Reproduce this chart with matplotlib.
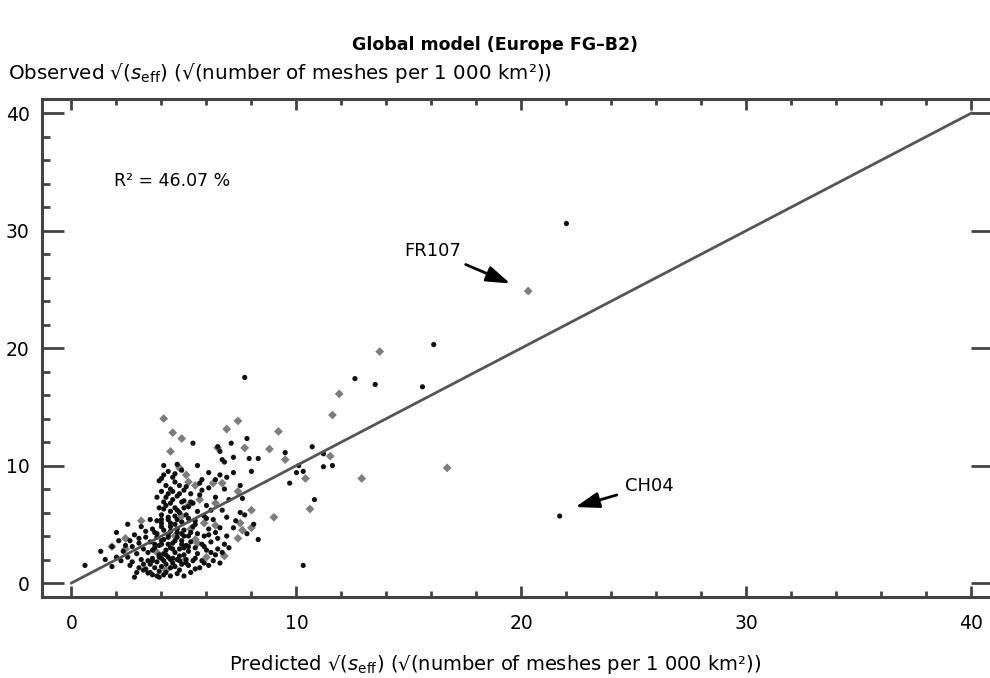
import matplotlib
matplotlib.use("Agg")
import matplotlib.pyplot as plt
from matplotlib.ticker import MultipleLocator

plt.rcParams['font.family'] = ['DejaVu Sans']

# Black dots (predicted, observed)
blackX = [22.0, 16.1, 15.6, 13.5, 21.7, 12.6, 9.5, 10.7, 11.2, 10.1, 10.3, 10.0, 11.2, 11.6, 9.7, 10.8, 10.3, 7.7,
          5.4, 7.8, 6.6, 7.1, 7.2, 7.9, 8.3, 8.0, 6.8, 5.6, 4.7, 6.1, 7.2, 6.5, 6.7, 7.5, 7.0, 7.6, 7.5, 7.7, 6.6, 7.2,
          8.3, 6.4, 6.1, 5.9, 5.2, 5.5, 5.8, 6.2, 6.0,
          0.6, 1.3, 1.8, 2.0, 2.5, 3.5, 4.0, 2.8, 1.8, 2.7, 3.0, 2.0, 2.5, 2.7, 2.8, 3.2, 3.4, 3.6, 3.9, 3.7,
          3.3, 3.5, 3.6, 3.4, 3.7, 3.5, 3.8, 3.6, 3.9, 4.0, 4.1, 3.9, 4.2, 4.0, 4.1, 4.3, 4.0, 4.2, 4.4, 4.5, 4.3, 4.6,
          4.4, 4.5, 4.7, 4.4, 4.6, 4.8, 4.9, 4.7, 5.0, 4.8, 5.1, 4.9, 5.2, 5.0, 5.3, 5.4, 5.2, 5.5, 5.3, 5.6, 5.4, 3.8,
          4.1, 4.3, 4.6, 4.8, 5.1, 3.6, 4.2, 4.5, 4.7, 3.9, 4.4, 5.0, 3.7, 4.0, 4.9, 5.6, 5.8, 5.7, 6.0, 6.2, 5.9, 6.3,
          6.5, 6.1, 6.8, 6.6, 3.1, 3.2, 3.0, 2.9, 3.3, 2.6, 2.3, 3.4,
          3.8, 4.0, 3.9, 4.1, 3.8, 4.0, 4.2, 3.9, 4.1, 4.3, 4.4, 4.2, 4.5, 4.3, 4.4, 4.6, 4.3, 4.7, 4.8, 4.6, 4.9, 4.7,
          5.0, 4.8, 5.1, 5.2, 5.0, 5.3, 5.5, 5.6, 5.4, 5.7, 5.9, 6.0, 5.8, 6.3, 6.4, 6.7, 6.9, 6.8, 4.5, 4.1, 4.4,
          3.5, 3.8, 4.1, 4.4, 4.7, 5.0, 3.6, 3.9, 4.2, 4.5, 4.8, 5.1, 3.7, 4.0, 4.3, 4.6, 4.9, 5.2, 3.8, 4.1, 4.4, 4.7,
          5.0, 5.3, 4.0, 4.3, 4.6, 4.9, 5.2, 5.5, 4.1, 4.4, 4.7, 5.0, 5.3, 4.2, 4.5, 4.8, 5.1, 4.0, 4.6, 4.9, 5.7, 6.1,
          6.4, 6.6, 6.9, 5.5, 5.8, 6.1, 6.4, 6.7, 7.0, 6.9, 7.3, 7.8, 8.1, 5.9, 6.2, 6.5, 3.2, 3.0, 2.9, 2.6, 2.2, 2.4,
          3.1, 3.3, 2.1, 1.5]
blackY = [30.6, 20.3, 16.7, 16.9, 5.7, 17.4, 11.1, 11.6, 11.0, 10.0, 9.5, 9.4, 9.9, 10.0, 8.5, 7.1, 1.5, 17.5,
          11.9, 12.3, 11.2, 11.9, 10.7, 10.6, 10.6, 9.5, 10.3, 10.0, 10.1, 9.4, 9.4, 11.6, 10.5, 8.3, 7.1, 7.2, 6.0, 5.8,
          4.7, 4.7, 3.7, 4.3, 4.1, 1.7, 1.5, 2.1, 8.8, 6.2, 5.5,
          1.5, 2.7, 1.4, 4.3, 5.0, 5.4, 5.4, 4.1, 3.1, 3.1, 3.4, 2.2, 2.2, 1.8, 0.5, 1.1, 0.85, 0.7, 0.5, 4.3,
          1.2, 1.6, 2.1, 2.6, 3.0, 3.5, 3.9, 4.6, 1.0, 1.4, 1.9, 2.4, 2.8, 3.3, 3.7, 4.1, 4.8, 0.9, 1.3, 1.7, 2.2, 2.6,
          3.0, 3.4, 3.9, 4.4, 5.0, 1.1, 1.6, 2.0, 2.4, 2.9, 3.2, 3.6, 4.0, 4.5, 0.9, 1.9, 2.7, 3.0, 3.5, 4.2, 4.8, 1.8,
          2.5, 3.3, 1.4, 2.3, 2.0, 2.8, 1.6, 2.9, 4.6, 3.2, 2.0, 3.0, 1.3, 2.1, 4.2, 2.5, 3.3, 1.3, 2.8, 3.5, 4.0, 1.9,
          2.9, 4.6, 3.3, 1.7, 2.0, 2.9, 3.8, 2.5, 4.4, 3.6, 2.7, 1.9,
          5.3, 5.8, 6.4, 6.9, 7.3, 7.8, 8.3, 8.7, 9.2, 5.6, 6.1, 6.6, 7.1, 7.6, 8.0, 8.6, 9.5, 5.4, 6.0, 6.4, 6.9, 7.4,
          7.9, 8.3, 5.8, 6.5, 7.0, 7.6, 5.3, 6.1, 6.8, 7.5, 5.7, 6.6, 7.9, 5.4, 7.3, 6.2, 5.6, 8.0, 9.0, 10.0, 5.1,
          0.9, 0.6, 0.7, 0.6, 0.8, 0.6, 1.9, 2.2, 2.4, 2.1, 1.9, 1.7, 3.3, 3.6, 3.9, 3.6, 3.3, 3.1, 4.2, 4.5, 4.8, 4.3,
          4.0, 4.3, 5.1, 5.4, 5.7, 5.2, 5.5, 5.0, 6.3, 6.8, 6.2, 6.4, 6.9, 7.3, 7.8, 7.6, 8.2, 8.9, 9.3, 9.6, 8.5, 8.1,
          8.8, 9.2, 9.0, 1.2, 1.9, 1.5, 2.4, 2.6, 3.0, 4.0, 5.3, 4.2, 5.0, 3.1, 2.6, 3.8, 1.6, 1.3, 0.9, 1.5, 1.9, 3.2,
          4.8, 3.9, 3.6, 2.0]

# Grey diamonds
greyX = [20.3, 13.7, 16.7, 11.9, 11.6, 9.2, 8.8, 11.5, 9.5, 10.4, 12.9, 10.6, 9.0, 4.1, 4.5, 4.9, 4.4, 7.4, 6.9,
         7.7, 6.5, 6.8, 1.8, 3.1, 2.4, 2.4, 6.7, 7.4, 8.0, 6.4, 7.5, 7.6, 8.0, 7.4, 5.5, 5.2, 4.8, 5.1, 5.5, 6.3,
         5.7, 5.2, 6.4, 5.9, 4.6, 5.0, 4.2, 5.6, 4.9, 3.8, 6.0, 5.3]
greyY = [24.85, 19.7, 9.8, 16.1, 14.3, 12.9, 11.4, 10.8, 10.5, 8.9, 8.9, 6.3, 5.6, 14.0, 12.8, 12.3, 11.2, 13.8, 13.1,
         11.5, 11.5, 2.3, 3.1, 5.3, 3.8, 2.9, 8.5, 7.8, 6.2, 4.9, 5.1, 4.5, 4.7, 3.8, 3.7, 8.6, 9.8, 9.2, 8.3, 8.5,
         7.1, 6.6, 6.8, 5.1, 4.0, 1.9, 1.1, 3.4, 5.7, 2.6, 2.2, 4.6]

fitX = [0, 40]
fitY = [0, 40]

fig = plt.figure(figsize=(9.9, 6.78), dpi=100)
ax = fig.add_axes([42 / 990, 81 / 678, 951 / 990, 498 / 678])

ax.plot(fitX, fitY, color='#555555', lw=2, zorder=3)
ax.scatter(greyX, greyY, marker='D', s=20, color='#7d7d7d', edgecolors='none', zorder=2)
ax.scatter(blackX, blackY, marker='o', s=14, color='#111111', edgecolors='none', zorder=2)

ax.set_xlim(-1.31, 40.96)
ax.set_ylim(-1.19, 41.2)

ax.xaxis.set_major_locator(MultipleLocator(10))
ax.xaxis.set_minor_locator(MultipleLocator(2))
ax.yaxis.set_major_locator(MultipleLocator(10))
ax.yaxis.set_minor_locator(MultipleLocator(2))
ax.tick_params(axis='x', which='major', direction='in', length=8, width=2, color='#444444',
               top=True, labelsize=13.5, pad=12)
ax.tick_params(axis='x', which='minor', direction='in', length=4, width=2, color='#444444', top=True)
ax.tick_params(axis='y', which='major', direction='in', length=16, width=2, color='#444444',
               right=True, labelsize=13.5, pad=9)
ax.tick_params(axis='y', which='minor', direction='in', length=6, width=2, color='#444444', right=False)
for sp in ax.spines.values():
    sp.set_linewidth(2.2)
    sp.set_color('#444444')

ax.text(1.9, 34.2, "R² = 46.07 %", fontsize=12.5, va='center', ha='left')

arrow = dict(arrowstyle='-|>,head_length=0.9,head_width=0.3', color='black', lw=2,
             mutation_scale=16, shrinkA=4, shrinkB=0)
ax.annotate("FR107", xy=(19.5, 25.5), xytext=(14.8, 28.3), fontsize=13, va='center', ha='left',
            arrowprops=arrow)
ax.annotate("CH04", xy=(22.4, 6.47), xytext=(24.6, 8.3), fontsize=13, va='center', ha='left',
            arrowprops=arrow)

fig.text(0.5, 1 - 45 / 678, "Global model (Europe FG–B2)", fontsize=12.5, fontweight='bold',
         ha='center', va='center')
fig.text(8 / 990, 1 - 73 / 678,
         r"Observed √($s_{\mathrm{eff}}$) (√(number of meshes per 1 000 km²))",
         fontsize=14.3, ha='left', va='center')
fig.text(495 / 990, 1 - 665 / 678,
         r"Predicted √($s_{\mathrm{eff}}$) (√(number of meshes per 1 000 km²))",
         fontsize=14, ha='center', va='center')

fig.savefig("out.png", dpi=100)
